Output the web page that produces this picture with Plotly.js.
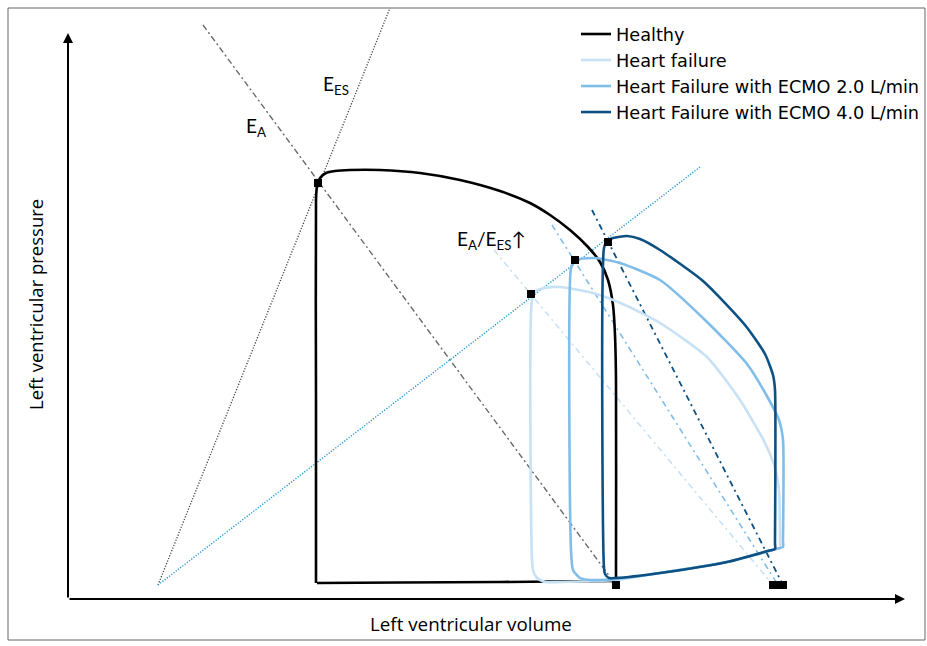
<!DOCTYPE html>
<html>
<head>
<meta charset="utf-8">
<script src="https://cdn.plot.ly/plotly-3.0.1.min.js"></script>
<style>
html,body{margin:0;padding:0;background:#fff;}
#chart{width:927px;height:646px;}
</style>
</head>
<body>
<div id="chart"></div>
<script>
// Series names
const seriesNames = ["Healthy", "Heart failure", "Heart Failure with ECMO 2.0 L/min", "Heart Failure with ECMO 4.0 L/min"];

// Pressure-volume loops (schematic units: volume, pressure)
const healthyVol = [248,248,248,249,252,258,267,282,312,352,392,432,462,482,502,520,532,540,545,547,548,548,548,542,432,332,249];
const healthyPres = [16,199,399,413,421,426,428,429,429,426,419,408,396,384,369,352,337,319,294,264,219,24,18,17.95,17,16.5,16];

const hfVol = [464,464,468,477,492,525,557,592,639,672,697,707,711,712,712,706.2,659,592,548,492,477,469,465,464];
const hfPres = [39,299,308,311,312,306,294,276,242,199,156,131,109,57,51,49.5,37,26,19,17,17,21,29,39];

const ecmo2Vol = [503,503,506,512,527,552,592,637,679,700,711,715,715,715,709.2,659,592,548,522,512,505,503];
const ecmo2Pres = [49,331,337,340,341,336,319,279,235,201,179,159,58,52,50.4,37,26,20,19,21,29,49];

const ecmo4Vol = [536,536,539,545,559,572,592,635,677,697,705,707,707,707,701.2,659,592,548,541,537,536];
const ecmo4Pres = [31,351,358,361,363,360,349,318,274,245,224,209,56,50,48.4,37,26,21,21,25,31];

// Elastance lines
const eesVol = [90, 322];           const eesPres = [14, 591];
const eaHealthyVol = [135, 548];    const eaHealthyPres = [574, 14];
const espvrHfVol = [90, 632];       const espvrHfPres = [14, 432];
const eaHfVol = [426, 705];         const eaHfPres = [349, 14];
const eaEcmo2Vol = [484, 710];      const eaEcmo2Pres = [374, 14];
const eaEcmo4Vol = [524, 715];      const eaEcmo4Pres = [389, 14];

// Marked points: end-systolic points and E_A volume intercepts
const esVol = [250, 463, 507, 540];  const esPres = [416, 305, 339, 357];
const edVol = [548, 705, 710, 715];  const edPres = [14, 14, 14, 14];

const colors = ["#000000", "#c8e1f4", "#80bde8", "#0d5082"];
const FONT = "Lato, 'Open Sans', sans-serif";
const FONT2 = "'Open Sans', Lato, sans-serif";
const FONT3 = "'DejaVu Sans', 'Open Sans', sans-serif";

function loop(v, p, i) {
  return {x: v, y: p, type: "scatter", mode: "lines", name: seriesNames[i],
    line: {color: colors[i], width: 2.6, shape: "spline", smoothing: 0.6},
    hoverinfo: "skip", legendrank: i + 1};
}
function ref(v, p, color, dash, width) {
  return {x: v, y: p, type: "scatter", mode: "lines", showlegend: false,
    line: {color: color, dash: dash, width: width}, hoverinfo: "skip"};
}

const traces = [
  ref(eesVol, eesPres, "#444444", "1.2px,1.6px", 1.3),
  ref(eaHealthyVol, eaHealthyPres, "#6a6a6a", "6px,3px,2px,3px", 1.4),
  ref(espvrHfVol, espvrHfPres, "#1f98da", "1.2px,1.6px", 1.4),
  ref(eaHfVol, eaHfPres, colors[1], "6px,4px,2px,4px", 1.6),
  ref(eaEcmo2Vol, eaEcmo2Pres, colors[2], "6px,4px,2px,4px", 1.6),
  ref(eaEcmo4Vol, eaEcmo4Pres, colors[3], "6px,4px,2px,4px", 1.8),
  loop(healthyVol, healthyPres, 0),
  loop(hfVol, hfPres, 1),
  loop(ecmo2Vol, ecmo2Pres, 2),
  loop(ecmo4Vol, ecmo4Pres, 3),
  {x: esVol, y: esPres, type: "scatter", mode: "markers", showlegend: false,
    marker: {symbol: "square", size: 8, color: "#000"}, hoverinfo: "skip"},
  {x: edVol, y: edPres, type: "scatter", mode: "markers", showlegend: false,
    marker: {symbol: "square", size: 8, color: "#000"}, hoverinfo: "skip"}
];

const layout = {
  width: 927, height: 646,
  margin: {l: 0, r: 0, t: 0, b: 0},
  paper_bgcolor: "#fff", plot_bgcolor: "#fff",
  font: {family: FONT, color: "#000"},
  xaxis: {range: [-68, 859], visible: false, fixedrange: true},
  yaxis: {range: [-47, 599], visible: false, fixedrange: true},
  showlegend: true,
  legend: {x: 576/927, xanchor: "left", y: 1 - 16/646, yanchor: "top",
    itemwidth: 30, font: {family: FONT3, size: 17.7, color: "#000"},
    bgcolor: "rgba(0,0,0,0)", traceorder: "normal"},
  shapes: [
    {type: "rect", xref: "x", yref: "y", x0: -60, x1: 857, y0: -41, y1: 591,
      line: {color: "#666", width: 1}}
  ],
  annotations: [
    {x: 0, y: 566, ax: 0, ay: 0, xref: "x", yref: "y", axref: "x", ayref: "y",
      text: "", showarrow: true, arrowhead: 2, arrowsize: 1, arrowwidth: 2, arrowcolor: "#000"},
    {x: 837, y: 0, ax: 0, ay: 0, xref: "x", yref: "y", axref: "x", ayref: "y",
      text: "", showarrow: true, arrowhead: 2, arrowsize: 1, arrowwidth: 2, arrowcolor: "#000"},
    {x: 403, y: -25, xref: "x", yref: "y", text: "Left ventricular volume", showarrow: false,
      font: {family: FONT2, size: 18.8}},
    {x: -33, y: 294, xref: "x", yref: "y", text: "Left ventricular pressure", showarrow: false,
      textangle: -90, font: {family: FONT2, size: 18.5}},
    {x: 268, y: 514, xref: "x", yref: "y", text: "E<sub>ES</sub>", showarrow: false, font: {size: 19}},
    {x: 188, y: 472, xref: "x", yref: "y", text: "E<sub>A</sub>", showarrow: false, font: {size: 19}},
    {x: 423, y: 359, xref: "x", yref: "y", text: "E<sub>A</sub>/E<sub>ES</sub>↑", showarrow: false, font: {size: 19}}
  ]
};

Plotly.newPlot("chart", traces, layout, {staticPlot: true, displayModeBar: false});
</script>
</body>
</html>
